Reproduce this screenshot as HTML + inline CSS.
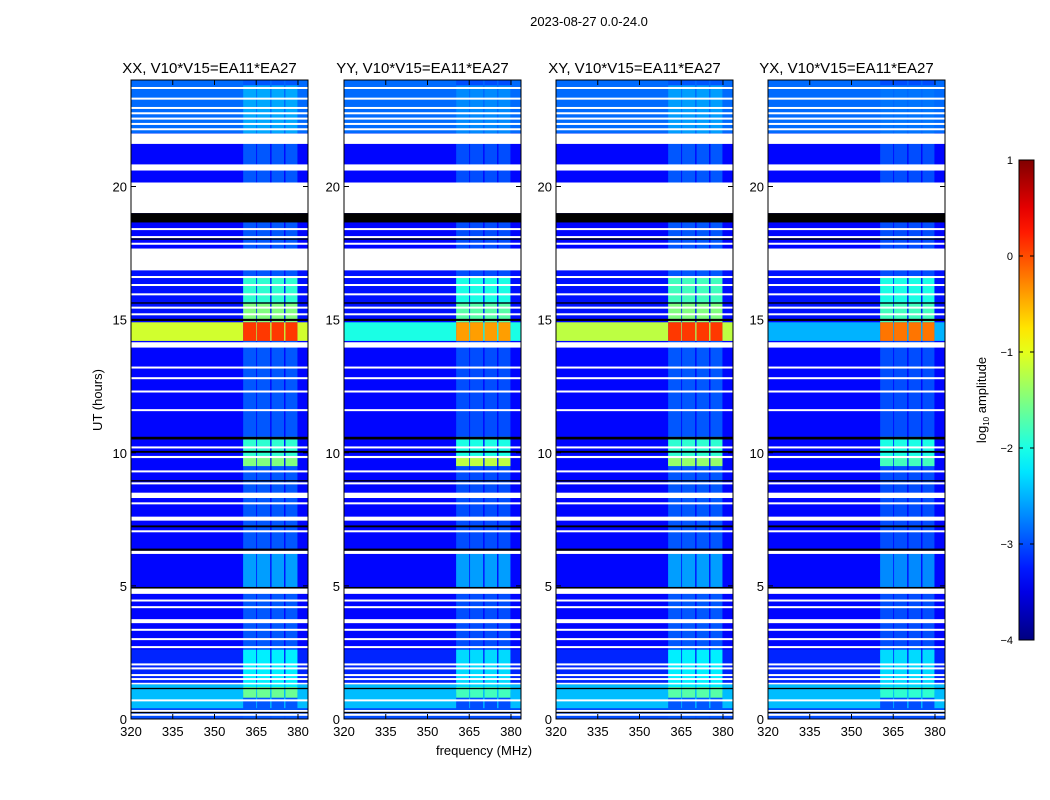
<!DOCTYPE html>
<html><head><meta charset="utf-8">
<style>
body{margin:0;background:#fff;}
svg{display:block;font-family:"Liberation Sans",sans-serif;}
</style></head>
<body>
<svg id="fig" width="1050" height="800" viewBox="0 0 1050 800"></svg>
<script>
// ---- data ----
const panelTitles = ["XX, V10*V15=EA11*EA27","YY, V10*V15=EA11*EA27","XY, V10*V15=EA11*EA27","YX, V10*V15=EA11*EA27"];
const xTicks = [320,335,350,365,380];
const yTicks = [0,5,10,15,20];
const cbTicks = [1,0,-1,-2,-3,-4];
// background log amplitude segments [startHour, endHour, level]
const bgSegments = [[0,24,-3.35],[22.0,24,-2.85],[0.4,1.3,-2.45],[0.0,0.4,-3.0],[1.3,2.6,-3.2],[15.0,17.0,-3.3]];
// broad band across all frequencies near 14.5 h, per panel level
const bandHours = [14.2,14.9];
const bandLevel = [-1.1,-2.0,-1.2,-2.5];
// box region (360-380 MHz) segments [start,end,level] per panel
const boxSegments = [
 [[0,24,-2.95],[22,23.8,-2.55],[15.6,16.6,-1.9],[14.9,15.6,-1.5],[14.2,14.9,0.1],[9.5,10.6,-1.9],[9.5,9.8,-1.5],[4.9,6.2,-2.6],[1.0,2.6,-2.2],[0.8,1.2,-1.6]],
 [[0,24,-3.0],[22,23.8,-2.7],[15.6,16.6,-2.0],[14.9,15.6,-1.7],[14.2,14.9,-0.4],[9.5,10.6,-2.0],[9.5,9.8,-1.2],[4.9,6.2,-2.6],[1.0,2.6,-2.3],[0.8,1.2,-1.8]],
 [[0,24,-2.95],[22,23.8,-2.6],[15.6,16.6,-1.8],[14.9,15.6,-1.5],[14.2,14.9,0.1],[9.5,10.6,-1.9],[9.5,9.8,-1.4],[4.9,6.2,-2.6],[1.0,2.6,-2.2],[0.8,1.2,-1.7]],
 [[0,24,-3.0],[22,23.8,-2.8],[15.6,16.6,-2.0],[14.9,15.6,-1.8],[14.2,14.9,-0.2],[9.5,10.6,-2.0],[9.5,9.8,-1.8],[4.9,6.2,-2.7],[1.0,2.6,-2.3],[0.8,1.2,-1.9]]
];
const boxFreqs = [[360.3,365],[365.3,370],[370.5,375],[375.5,379.8]];
const whiteGaps = [[19.0,20.15],[16.85,17.67],[21.6,21.99],[20.6,20.83],[13.95,14.15],[4.7,4.9],[6.2,6.32],[8.3,8.5],[7.45,7.6],[3.6,3.75],[0.12,0.2],[9.8,9.88],[1.3,1.36]];
const thinWhite = [23.7,23.3,22.95,22.75,22.55,22.35,22.15,18.4,18.1,17.85,16.6,16.3,15.95,15.45,15.2,13.2,12.8,12.3,11.6,10.2,9.3,8.85,8.1,7.05,4.45,4.2,3.35,3.0,2.7,2.05,1.9,1.65,1.5,0.7,0.3];
const blackGaps = [[18.65,19.0],[6.32,6.4],[4.9,4.96],[10.5,10.6],[10.0,10.07],[14.95,15.03],[15.6,15.65],[8.92,8.97],[7.2,7.27],[1.12,1.17],[0.22,0.27],[18.0,18.05]];

// ---- layout ----
const svg = document.getElementById('fig');
const NS = 'http://www.w3.org/2000/svg';
const panelX = [131,344,556,768], PW = 177, PT = 80, PB = 719;
const xmin = 320, xmax = 383.6, ymin = 0, ymax = 24;
function el(tag, attrs, parent){const e=document.createElementNS(NS,tag);for(const k in attrs)e.setAttribute(k,attrs[k]);(parent||svg).appendChild(e);return e;}
function yPix(h){return PB-(h-ymin)/(ymax-ymin)*(PB-PT);}
function jet(v){ // v in [-4,1]
  let t=(v+4)/5; t=Math.max(0,Math.min(1,t));
  const f=x=>Math.max(0,Math.min(1,x));
  const r=f(1.5-Math.abs(4*t-3)),g=f(1.5-Math.abs(4*t-2)),b=f(1.5-Math.abs(4*t-1));
  return `rgb(${Math.round(r*255)},${Math.round(g*255)},${Math.round(b*255)})`;
}
function txt(x,y,s,size,anchor,parent){const t=el('text',{x:x,y:y,'font-size':size,'text-anchor':anchor||'middle',fill:'#000'},parent);t.textContent=s;return t;}

const title = txt(589,26,"2023-08-27 0.0-24.0",13);



panelTitles.forEach((pt,p)=>{
  const x0 = panelX[p];
  const xPix = f => x0+(f-xmin)/(xmax-xmin)*PW;
  const g = el('g',{});
  
  
  const draw=(h0,h1,fx0,fx1,fill,name)=>{
    const r=el('rect',{x:fx0,y:yPix(h1),width:fx1-fx0,height:Math.max(1,yPix(h0)-yPix(h1)),fill:fill},g);
    
    
  };
  bgSegments.forEach(s=>draw(s[0],s[1],x0,x0+PW,jet(s[2]),'background-segment'));
  draw(bandHours[0],bandHours[1],x0,x0+PW,jet(bandLevel[p]),'broadband-rfi');
  boxSegments[p].forEach(s=>{
    boxFreqs.forEach(bf=>draw(s[0],s[1],xPix(bf[0]),xPix(bf[1]),jet(s[2]),'rfi-block'));
  });
  whiteGaps.forEach(s=>draw(s[0],s[1],x0,x0+PW,'#fff','flagged-gap'));
  thinWhite.forEach(h=>{
    const r=el('rect',{x:x0,y:yPix(h)-1,width:PW,height:2,fill:'#fff'},g);
    
    
  });
  blackGaps.forEach(s=>draw(s[0],s[1],x0,x0+PW,'#000','zero-gap'));
  const frame=el('rect',{x:x0,y:PT,width:PW,height:PB-PT,fill:'none',stroke:'#000','stroke-width':1},g);
  
  
  const tt=txt(x0+PW/2-10,73,pt,15,'middle',g);
  
  
  xTicks.forEach(v=>{
    const x=xPix(v);
    el('line',{x1:x,x2:x,y1:PB,y2:PB-5,stroke:'#000'},g);
    el('line',{x1:x,x2:x,y1:PT,y2:PT+5,stroke:'#000'},g);
    const l=txt(x,736,String(v),13,'middle',g);
    
    
  });
  yTicks.forEach(v=>{
    const y=yPix(v);
    el('line',{x1:x0,x2:x0+5,y1:y,y2:y,stroke:'#000'},g);
    el('line',{x1:x0+PW,x2:x0+PW-5,y1:y,y2:y,stroke:'#000'},g);
    const l=txt(x0-4,y+5,String(v),13,'end',g);
    
    
  });
});

const yl=txt(0,0,"UT (hours)",13);
yl.setAttribute('transform','translate(102,400) rotate(-90)');


const xl=txt(484,755,"frequency (MHz)",13);



// colorbar
const cbG=el('g',{});


const defs=el('defs',{},cbG);
const grad=el('linearGradient',{id:'jetg',x1:0,y1:1,x2:0,y2:0},defs);
for(let i=0;i<=20;i++){el('stop',{offset:i/20,'stop-color':jet(-4+5*i/20)},grad);}
el('rect',{x:1019,y:160,width:15,height:480,fill:'url(#jetg)',stroke:'#000','stroke-width':1},cbG);
cbTicks.forEach(v=>{
  const y=640-(v+4)/5*480;
  el('line',{x1:1019,x2:1023,y1:y,y2:y,stroke:'#000'},cbG);
  el('line',{x1:1030,x2:1034,y1:y,y2:y,stroke:'#000'},cbG);
  const l=txt(1013,y+4,v<0?'\u2212'+(-v):String(v),11,'end',cbG);
  
  
});
const cl=el('text',{'font-size':13,'text-anchor':'middle',fill:'#000',transform:'translate(986,400) rotate(-90)'},cbG);
cl.innerHTML='log<tspan font-size="8" dy="3">10</tspan><tspan dy="-3"> amplitude</tspan>';


</script>
</body></html>
